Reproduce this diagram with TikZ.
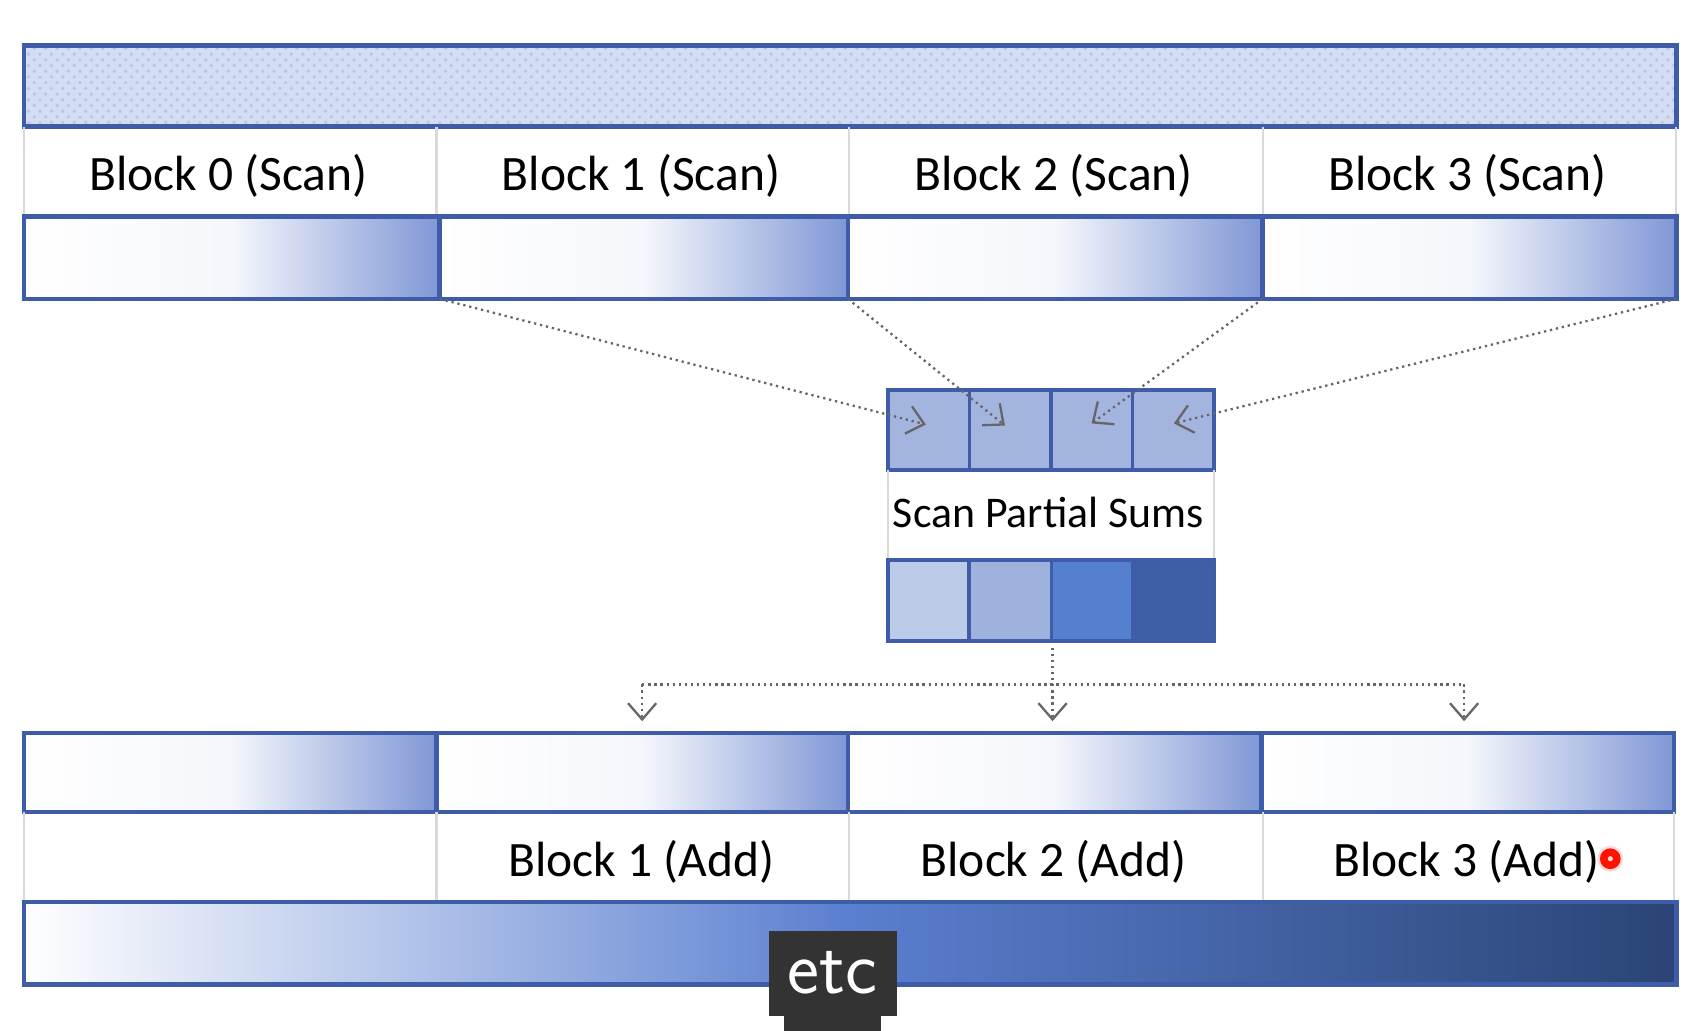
\documentclass[tikz,border=0pt]{standalone}
\usepackage{fontspec}
\setmainfont{Carlito}
\usetikzlibrary{arrows.meta,patterns}

\definecolor{edgeblue}{HTML}{3F5CA8}
\definecolor{gradblue}{HTML}{8097D6}
\definecolor{cellblue}{HTML}{A3B4DF}
\definecolor{dotblue}{HTML}{D3DDF3}

\begin{document}
\begin{tikzpicture}[
  x=0.01cm, y=-0.01cm,
  >={Straight Barb[length=1.5mm,width=2.6mm]},
  bar/.style   = {draw=edgeblue, line width=1.2pt},
  grad/.style  = {bar, left color=white, right color=gradblue, middle color=white!92!gradblue},
  cell/.style  = {draw=edgeblue, line width=1pt},
  divider/.style = {draw=black!15, line width=0.6pt},
  label/.style = {font=\fontsize{13}{15}\selectfont, anchor=center},
  flow/.style  = {densely dotted, draw=black!60, line width=0.6pt}
]

% ---- frame ----
\useasboundingbox (0,0) rectangle (1568,952);

% ---- input array ----
\fill[dotblue] (22,42) rectangle (1548,117);
\fill[pattern=crosshatch dots, pattern color=edgeblue!35] (22,42) rectangle (1548,117);
\draw[bar] (22,42) rectangle (1548,117);

% ---- scan blocks ----
\draw[divider] (22,117) -- (22,200) (1548,117) -- (1548,200);
\foreach \x in {403,784,1166} \draw[divider] (\x,117) -- (\x,200);
\node[label] (s0) at (211,162) {Block 0 (Scan)};
\node[label] (s1) at (592,162) {Block 1 (Scan)};
\node[label] (s2) at (973,162) {Block 2 (Scan)};
\node[label] (s3) at (1355,162) {Block 3 (Scan)};

\draw[grad] (22,200) rectangle (406,276);
\draw[grad] (406,200) rectangle (783,276);
\draw[grad] (783,200) rectangle (1166,276);
\draw[grad] (1166,200) rectangle (1548,276);
\coordinate (e0) at (406,276);
\coordinate (e1) at (783,276);
\coordinate (e2) at (1166,276);
\coordinate (e3) at (1548,276);

% ---- partial sums ----
\foreach \i in {0,...,3}
  \draw[cell, fill=cellblue] (820+75.25*\i,360) rectangle +(75.25,74);
\coordinate (p0) at (855,392);
\coordinate (p1) at (928,393);
\coordinate (p2) at (1008,391);
\coordinate (p3) at (1084,391);
\draw[divider] (820,434) -- (820,517) (1121,434) -- (1121,517);
\node[label, font=\fontsize{11.5}{14}\selectfont] (psums) at (968,473) {Scan Partial Sums};
\draw[cell, fill={rgb,255:red,188;green,203;blue,232}] (820,517) rectangle (895,592);
\draw[cell, fill={rgb,255:red,159;green,178;blue,222}] (895,517) rectangle (971,592);
\draw[cell, fill={rgb,255:red,85;green,128;blue,207}]  (971,517) rectangle (1046,592);
\draw[cell, fill={rgb,255:red,60;green,95;blue,165}]   (1046,517) rectangle (1121,592);

\draw[flow, ->] (e0) -- (p0);
\draw[flow, ->] (e1) -- (p1);
\draw[flow, ->] (e2) -- (p2);
\draw[flow, ->] (e3) -- (p3);

% ---- broadcast ----
\coordinate (top) at (972,598);
\coordinate (a1) at (593,666);
\coordinate (a2) at (972,666);
\coordinate (a3) at (1352,666);
\draw[flow, ->] (top) -- (a2);
\draw[flow] (a1 |- 0,632) -- (a3 |- 0,632);
\draw[flow, ->] (a1 |- 0,632) -- (a1);
\draw[flow, ->] (a3 |- 0,632) -- (a3);

% ---- add blocks ----
\draw[grad] (22,677) rectangle (403,750);
\draw[grad] (403,677) rectangle (783,750);
\draw[grad] (783,677) rectangle (1165,750);
\draw[grad] (1165,677) rectangle (1546,750);
\draw[divider] (22,750) -- (22,833) (1546,750) -- (1546,833);
\foreach \x in {403,784,1166} \draw[divider] (\x,750) -- (\x,833);
\node[label] (a1l) at (592,796) {Block 1 (Add)};
\node[label] (a2l) at (973,796) {Block 2 (Add)};
\node[label] (a3l) at (1354,796) {Block 3 (Add)};
\fill[red!15] (1487,793) circle (12);
\draw[red!85!orange, line width=2pt] (1487,793) circle (6);

% ---- result ----
\shade[left color=white, right color={rgb,255:red,42;green,68;blue,117},
  middle color={rgb,255:red,90;green,127;blue,208}] (22,833) rectangle (1548,909);
\draw[bar] (22,833) rectangle (1548,909);

% ---- caption ----
\fill[black!80] (724,930) rectangle (814,952);
\fill[black!80] (710,860) rectangle (828,938);
\node[text=white, font=\fontsize{20}{22}\selectfont\sffamily] (etc) at (769,898) {etc};
\end{tikzpicture}
\end{document}
